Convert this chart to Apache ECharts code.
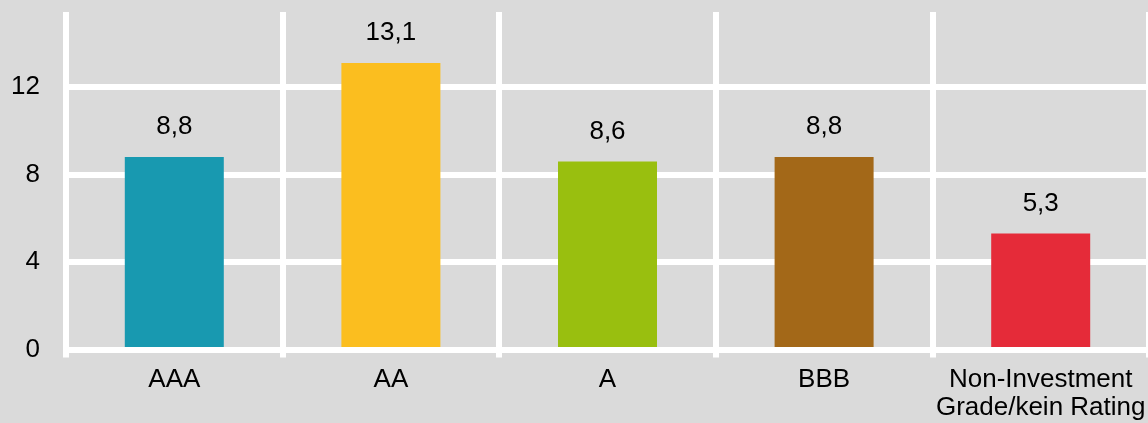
<!DOCTYPE html>
<html>
<head>
<meta charset="utf-8">
<script src="https://cdn.jsdelivr.net/npm/echarts@6/dist/echarts.min.js"></script>
<style>
  html, body { margin: 0; padding: 0; background: #dadada; }
  #chart { width: 1148px; height: 423px; }
</style>
</head>
<body>
<div id="chart"></div>
<script>
const categories = ['AAA', 'AA', 'A', 'BBB', 'Non-Investment\nGrade/kein Rating']
const values = [8.8, 13.1, 8.6, 8.8, 5.3]
const yTicks = [0, 4, 8, 12]

// one colour per rating class
const barColors = ['#1899b0', '#fbbe1f', '#99bf0f', '#a36818', '#e52b39']

const chart = echarts.init(document.getElementById('chart'))
const font = 'Liberation Sans, Arial, sans-serif'

chart.setOption({
  backgroundColor: '#dadada',
  animation: false,
  grid: { left: 66, right: -1, top: 12, bottom: 73.5, outerBoundsMode: 'none' },
  xAxis: {
    type: 'category',
    data: categories,
    z: 3, // axis line sits over the bar bottoms
    axisLine: { lineStyle: { color: '#fff', width: 6 } },
    axisTick: { show: true, length: 8, lineStyle: { color: '#fff', width: 6 } },
    splitLine: { show: true, lineStyle: { color: '#fff', width: 6 } },
    axisLabel: {
      color: '#000',
      fontFamily: font,
      fontSize: 26,
      lineHeight: 28,
      margin: 16,
      interval: 0
    }
  },
  yAxis: {
    type: 'value',
    min: yTicks[0],
    max: 15.43,
    interval: yTicks[1] - yTicks[0],
    axisLine: { show: false },
    axisTick: { show: false },
    splitLine: { showMaxLine: false, lineStyle: { color: '#fff', width: 6 } },
    axisLabel: {
      color: '#000',
      fontFamily: font,
      fontSize: 26,
      margin: 26,
      showMaxLabel: false
    }
  },
  series: [{
    type: 'bar',
    barWidth: 99,
    data: values.map((v, i) => ({ value: v, itemStyle: { color: barColors[i] } })),
    label: {
      show: true,
      position: 'top',
      distance: 17,
      color: '#000',
      fontFamily: font,
      fontSize: 26,
      formatter: p => String(p.value).replace('.', ',')
    }
  }]
})
</script>
</body>
</html>
